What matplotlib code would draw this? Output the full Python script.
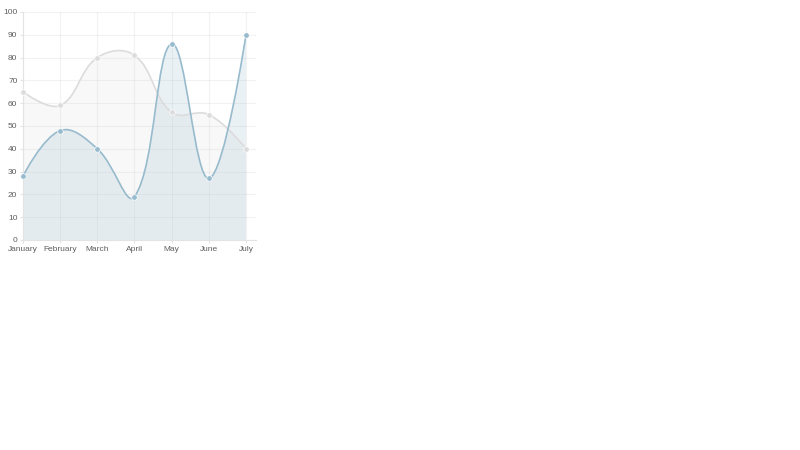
import matplotlib
matplotlib.use("Agg")
import matplotlib.pyplot as plt
from matplotlib.path import Path
from matplotlib.patches import PathPatch

labels = ["January", "February", "March", "April", "May", "June", "July"]
grey_values = [65, 59, 80, 81, 56, 55, 40]
blue_values = [28, 48, 40, 19, 86, 27, 90]
y_ticks = list(range(0, 101, 10))

# pixel layout of the plot area
FIG_W, FIG_H = 800, 450
LEFT_PX, RIGHT_PX = 23, 256
TOP_PX, BOTTOM_PX = 12, 240
STEP_PX = (246 - 23) / 6
Y_PX = (BOTTOM_PX - TOP_PX) / 100.0
TENSION = 0.4


def spline_controls(values):
    """Chart.js 1.x style bezier control points, computed in pixel space."""
    pts = [(i * STEP_PX, v * Y_PX) for i, v in enumerate(values)]
    ctrl = []
    n = len(pts)
    for i, p in enumerate(pts):
        if i == 0 or i == n - 1:
            ctrl.append((p, p))
            continue
        a, c = pts[i - 1], pts[i + 1]
        d01 = ((p[0] - a[0]) ** 2 + (p[1] - a[1]) ** 2) ** 0.5
        d12 = ((c[0] - p[0]) ** 2 + (c[1] - p[1]) ** 2) ** 0.5
        fa = TENSION * d01 / (d01 + d12)
        fb = TENSION * d12 / (d01 + d12)
        inner = (p[0] - fa * (c[0] - a[0]), p[1] - fa * (c[1] - a[1]))
        outer = (p[0] + fb * (c[0] - a[0]), p[1] + fb * (c[1] - a[1]))
        ymax = 100 * Y_PX
        inner = (inner[0], min(max(inner[1], 0), ymax))
        outer = (outer[0], min(max(outer[1], 0), ymax))
        ctrl.append((inner, outer))
    to_data = lambda q: (q[0] / STEP_PX, q[1] / Y_PX)
    verts = [to_data(pts[0])]
    codes = [Path.MOVETO]
    for i in range(1, n):
        verts += [to_data(ctrl[i - 1][1]), to_data(ctrl[i][0]), to_data(pts[i])]
        codes += [Path.CURVE4] * 3
    return verts, codes


def draw_series(ax, values, rgb):
    verts, codes = spline_controls(values)
    line_col = tuple(c / 255 for c in rgb)
    fill_col = line_col + (0.2,)
    n = len(values)
    fverts = verts + [(n - 1, 0), (0, 0), verts[0]]
    fcodes = codes + [Path.LINETO, Path.LINETO, Path.CLOSEPOLY]
    ax.add_patch(PathPatch(Path(fverts, fcodes), facecolor=fill_col,
                           edgecolor="none", zorder=2))
    ax.add_patch(PathPatch(Path(verts, codes), facecolor="none",
                           edgecolor=line_col, linewidth=1.2, zorder=3))
    ax.plot(range(n), values, "o", markersize=4.0, color=line_col,
            markeredgecolor="white", markeredgewidth=0.5, zorder=4,
            clip_on=False)


fig = plt.figure(figsize=(8, 4.5), dpi=100)
ax = fig.add_axes([LEFT_PX / FIG_W, 1 - BOTTOM_PX / FIG_H,
                   (RIGHT_PX - LEFT_PX) / FIG_W, (BOTTOM_PX - TOP_PX) / FIG_H])
ax.set_xlim(0, (RIGHT_PX - LEFT_PX) / STEP_PX)
ax.set_ylim(0, 100)

for s in ["top", "right"]:
    ax.spines[s].set_visible(False)
for s in ["left", "bottom"]:
    ax.spines[s].set_color("#e3e3e3")
    ax.spines[s].set_linewidth(0.8)

ax.set_xticks(range(len(labels)))
ax.set_xticklabels(labels)
ax.set_yticks(y_ticks)
ax.set_yticklabels([str(t) for t in y_ticks])
ax.tick_params(axis="both", labelsize=6.0, labelcolor="#5e5e5e", length=2,
               width=0.8, color="#e3e3e3")
ax.tick_params(axis="x", pad=2)
ax.tick_params(axis="y", pad=2)
for lab in ax.get_xticklabels() + ax.get_yticklabels():
    lab.set_fontfamily("Liberation Sans")
ax.grid(True, color="black", alpha=0.05, linewidth=0.8)
ax.set_axisbelow(True)

draw_series(ax, grey_values, (220, 220, 220))
draw_series(ax, blue_values, (151, 187, 205))

fig.savefig("out.png", dpi=100)
